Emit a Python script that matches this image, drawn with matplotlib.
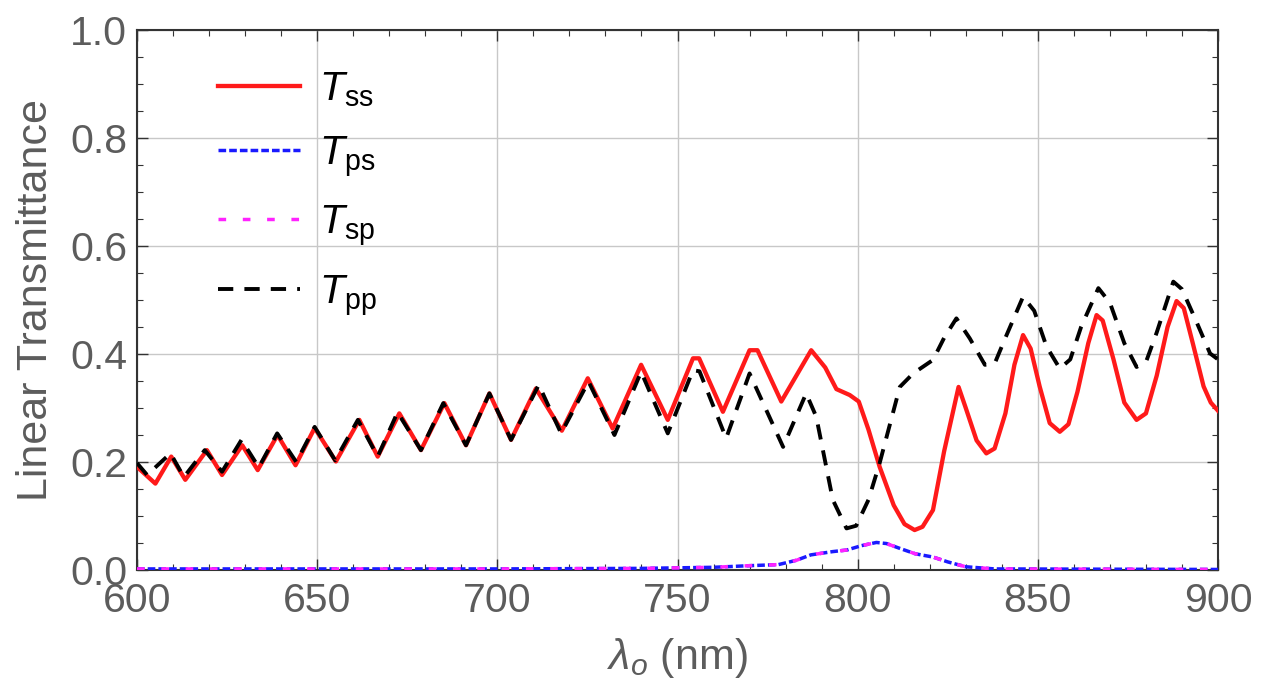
import matplotlib
matplotlib.use("Agg")
import matplotlib.pyplot as plt
from matplotlib.ticker import MultipleLocator

plt.rcParams['font.family'] = ['Liberation Sans', 'DejaVu Sans']
plt.rcParams['mathtext.fontset'] = 'custom'
plt.rcParams['mathtext.rm'] = 'Liberation Sans'
plt.rcParams['mathtext.it'] = 'Liberation Sans:italic'
plt.rcParams['lines.scale_dashes'] = False

# ---- data ----
wl_ss = [600, 605.1, 609.5, 613.4, 619.4, 623.6, 629.2, 633.5, 639.0, 644.0, 649.3, 655.2,
         661.7, 666.8, 672.8, 678.8, 685.3, 691.3, 697.8, 703.8, 710.7, 717.9, 725.1, 732.0,
         739.9, 747.3, 754.3, 756.0, 762.6, 770.0, 772.2, 778.8, 787.1, 791.0, 794.1, 797.8,
         800.3, 803.0, 806.1, 810.0, 813.0, 815.8, 818.0, 820.9, 824.0, 828.0, 830.0, 833.0,
         835.7, 838.0, 841.0, 843.5, 845.9, 848.0, 850.5, 853.3, 856.1, 858.5, 861.0, 864.0,
         866.3, 868.0, 871.0, 874.0, 877.4, 880.0, 883.0, 886.0, 888.5, 890.5, 893.0, 896.0,
         898.0, 900.0]
T_ss = [0.191, 0.160, 0.210, 0.167, 0.222, 0.176, 0.231, 0.185, 0.250, 0.194, 0.263, 0.201,
        0.278, 0.210, 0.290, 0.222, 0.309, 0.231, 0.327, 0.241, 0.336, 0.258, 0.355, 0.262,
        0.380, 0.278, 0.392, 0.392, 0.293, 0.407, 0.407, 0.312, 0.407, 0.375, 0.335, 0.324,
        0.312, 0.260, 0.191, 0.120, 0.085, 0.074, 0.080, 0.111, 0.220, 0.339, 0.300, 0.240,
        0.216, 0.225, 0.290, 0.380, 0.435, 0.410, 0.340, 0.272, 0.256, 0.270, 0.330, 0.420,
        0.472, 0.462, 0.390, 0.310, 0.278, 0.290, 0.360, 0.450, 0.498, 0.485, 0.420, 0.340,
        0.310, 0.295]

wl_pp = [600, 602.8, 609.3, 613.0, 618.8, 623.6, 629.0, 633.8, 638.9, 644.2, 649.3, 655.0,
         661.3, 666.8, 672.3, 678.8, 685.0, 691.3, 697.8, 703.8, 711.5, 717.7, 725.3, 732.5,
         739.9, 747.3, 754.3, 756.1, 763.5, 770.0, 779.3, 785.7, 788.5, 793.1, 796.9, 799.6,
         803.0, 806.1, 811.7, 815.4, 820.9, 824.0, 827.4, 831.1, 835.3, 838.0, 841.0, 845.9,
         849.0, 852.4, 856.1, 859.0, 862.0, 866.8, 870.0, 874.0, 877.4, 880.0, 883.0, 887.6,
         890.0, 894.0, 897.8, 900.0]
T_pp = [0.198, 0.176, 0.216, 0.172, 0.222, 0.182, 0.241, 0.190, 0.253, 0.200, 0.265, 0.203,
        0.278, 0.210, 0.292, 0.222, 0.309, 0.231, 0.327, 0.241, 0.343, 0.253, 0.349, 0.250,
        0.367, 0.253, 0.370, 0.368, 0.244, 0.364, 0.228, 0.327, 0.284, 0.130, 0.077, 0.082,
        0.130, 0.198, 0.339, 0.364, 0.389, 0.430, 0.466, 0.429, 0.380, 0.382, 0.430, 0.506,
        0.480, 0.414, 0.373, 0.390, 0.450, 0.522, 0.495, 0.420, 0.376, 0.385, 0.440, 0.534,
        0.520, 0.460, 0.401, 0.390]

wl_x = [600, 650, 700, 740, 760, 770, 778, 783, 787, 793, 797, 801, 805.2, 808, 811.7, 816,
        820.9, 825, 830, 838, 900]
T_ps = [0.002, 0.002, 0.002, 0.003, 0.005, 0.008, 0.010, 0.018, 0.028, 0.034, 0.037, 0.045,
        0.051, 0.049, 0.040, 0.030, 0.024, 0.015, 0.006, 0.002, 0.001]
T_sp = [0.002, 0.002, 0.002, 0.003, 0.005, 0.008, 0.010, 0.018, 0.028, 0.034, 0.037, 0.045,
        0.051, 0.049, 0.040, 0.030, 0.024, 0.015, 0.006, 0.002, 0.001]

labels = [r'$T_{\mathrm{ss}}$', r'$T_{\mathrm{ps}}$', r'$T_{\mathrm{sp}}$', r'$T_{\mathrm{pp}}$']
x_ticks = [600, 650, 700, 750, 800, 850, 900]
y_ticks = [0.0, 0.2, 0.4, 0.6, 0.8, 1.0]

# ---- figure ----
fig = plt.figure(figsize=(12.71, 6.81), dpi=100)
ax = fig.add_axes([137/1271, 111/681, 1081/1271, 540/681])

gray = '#5c5c5c'
l_ss, = ax.plot(wl_ss, T_ss, color='#ff1a1a', lw=3.1, label=labels[0], zorder=4)
l_ps, = ax.plot(wl_x, T_ps, color='#1a1aff', lw=2.5, dashes=(5.5, 2.2), label=labels[1], zorder=3)
l_sp, = ax.plot(wl_x, T_sp, color='#ff22ff', lw=2.5, dashes=(5.5, 12), label=labels[2], zorder=3.5)
l_pp, = ax.plot(wl_pp, T_pp, color='black', lw=2.8, dashes=(11, 8), label=labels[3], zorder=5)

ax.set_xlim(600, 900)
ax.set_ylim(0, 1.0)
ax.set_xticks(x_ticks)
ax.set_yticks(y_ticks)
ax.set_xticklabels([str(v) for v in x_ticks])
ax.set_yticklabels([f'{v:.1f}' for v in y_ticks])
ax.xaxis.set_minor_locator(MultipleLocator(10))
ax.yaxis.set_minor_locator(MultipleLocator(0.05))
ax.grid(True, which='major', color='#c8c8c8', lw=1.0)
ax.set_axisbelow(True)

ax.tick_params(which='both', direction='in', top=True, right=True, colors='#333333',
               labelcolor=gray, labelsize=29.5)
ax.tick_params(which='major', length=8, width=1.0)
ax.tick_params(axis='x', which='major', pad=9)
ax.tick_params(axis='y', which='major', pad=7)
ax.tick_params(which='minor', length=4.5, width=0.8)
for s in ax.spines.values():
    s.set_color('#333333')
    s.set_linewidth(1.5)

ax.set_xlabel(r'$\lambda_o$ (nm)', fontsize=31, color=gray, labelpad=11)
ax.set_ylabel('Linear Transmittance', fontsize=31, color=gray, labelpad=10)

leg = ax.legend(handles=[l_ss, l_ps, l_sp, l_pp], loc='upper left', frameon=False,
                fontsize=29.5, handlelength=2.0, handletextpad=0.46, labelspacing=0.6,
                borderpad=0.4, bbox_to_anchor=(0.041, 0.993))

fig.savefig('out.png', dpi=100)
